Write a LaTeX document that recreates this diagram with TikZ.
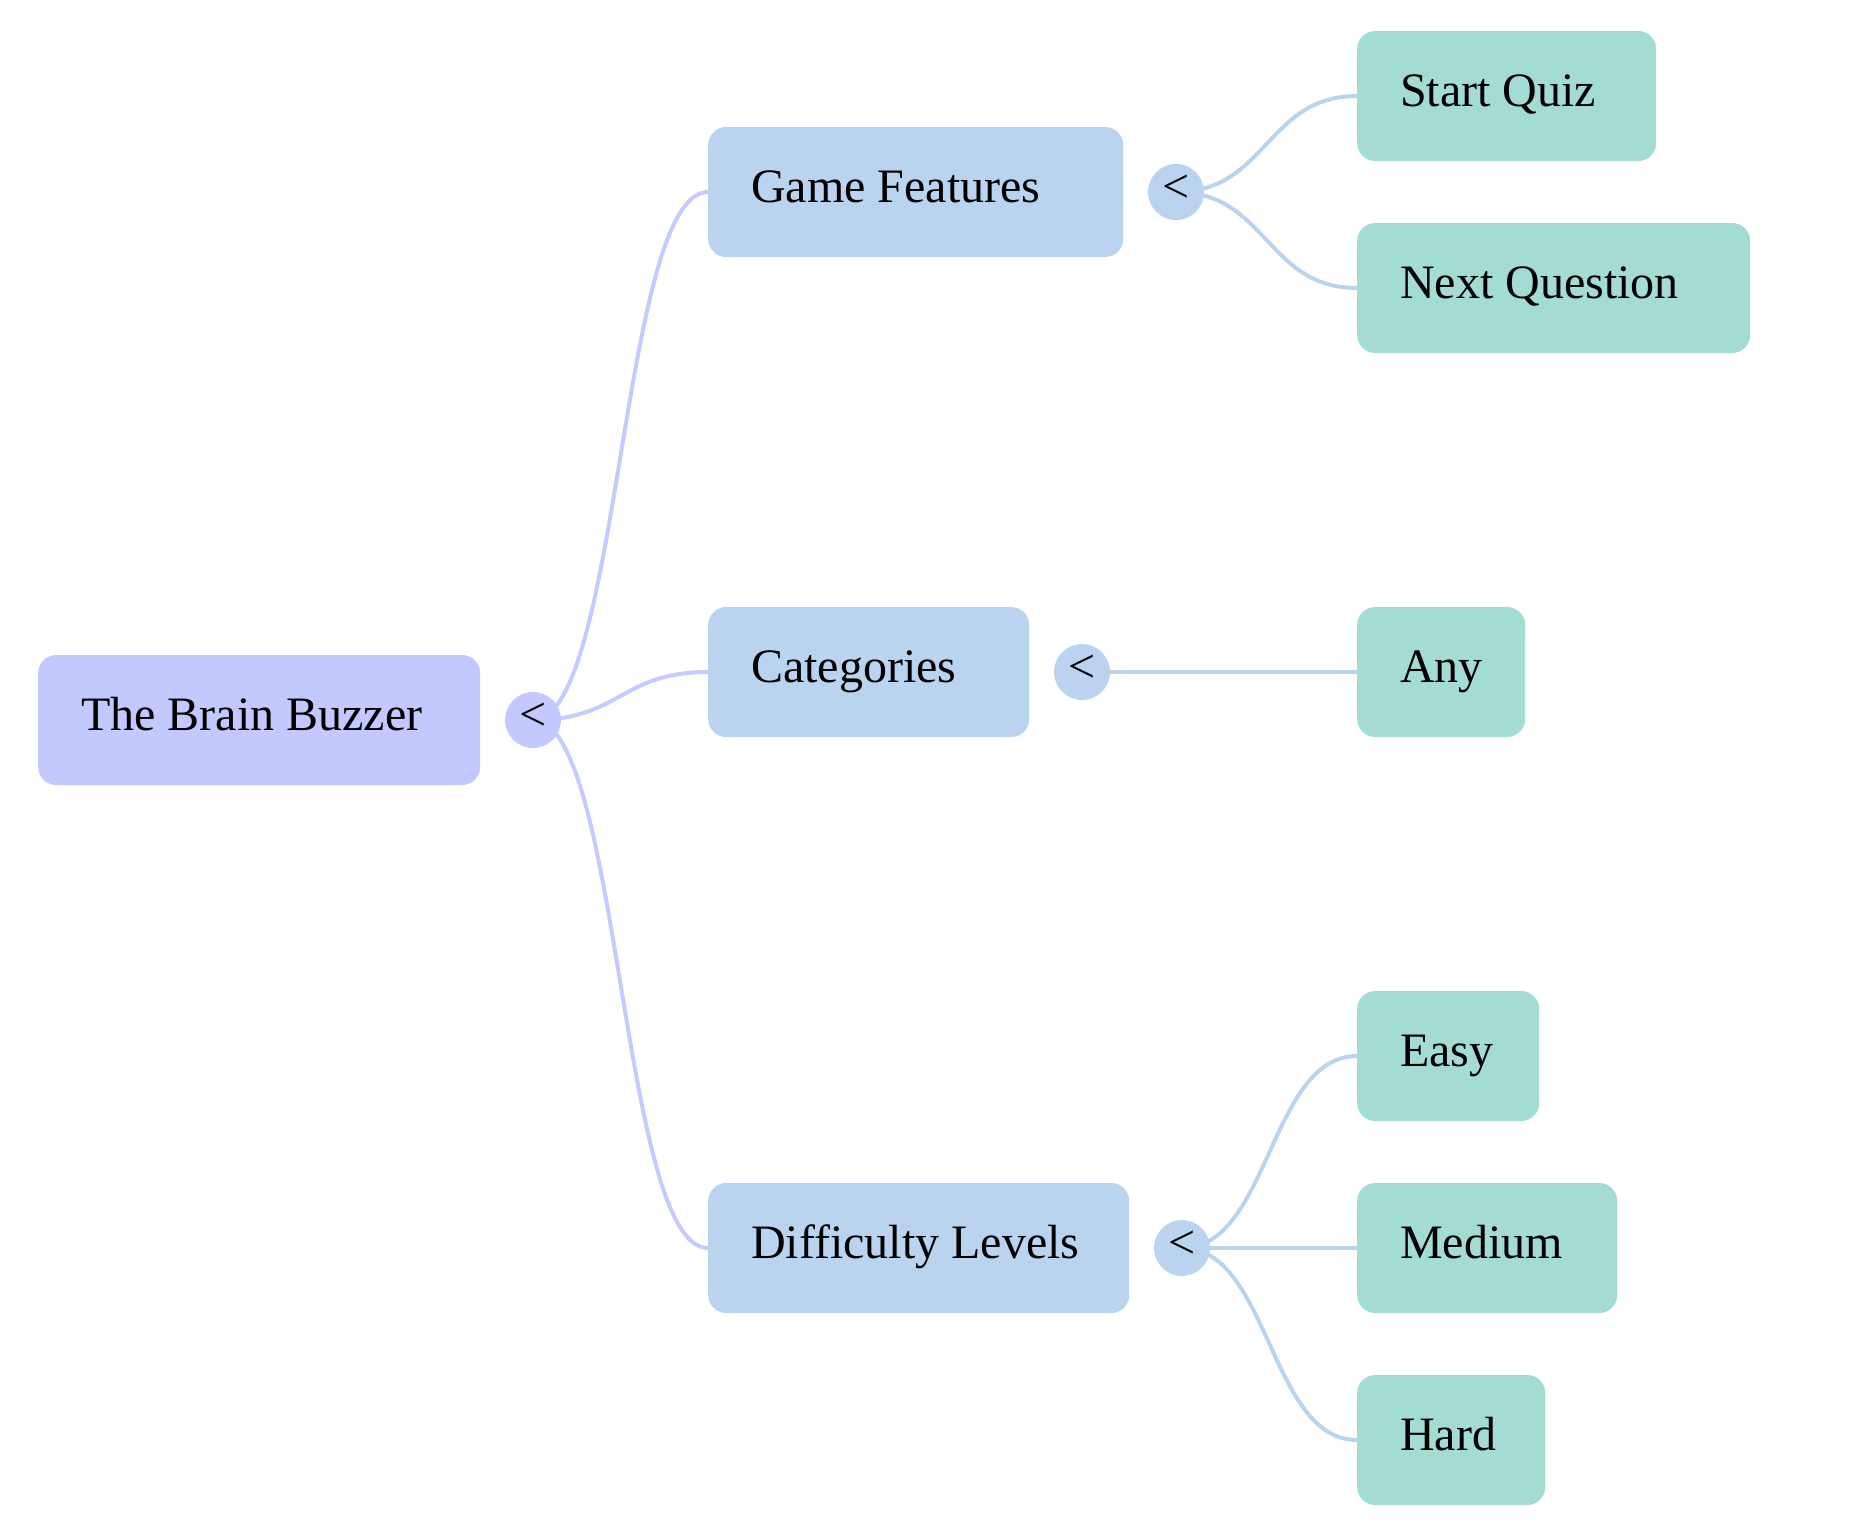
\documentclass[tikz,border=0pt]{standalone}
\usepackage{fontspec}
\setmainfont{Liberation Serif}
\usetikzlibrary{backgrounds}
\definecolor{rootfill}{HTML}{C3C8FE}
\definecolor{lonefill}{HTML}{BAD4EF}
\definecolor{ltwofill}{HTML}{A2DCD2}
\definecolor{linkzero}{HTML}{C5CAFF}
\definecolor{linkone}{HTML}{BAD4EF}
\tikzset{
  boxnode/.style={rectangle, rounded corners=18pt, inner xsep=0pt, inner ysep=0pt,
    minimum height=130pt, text width=#1, align=left, anchor=west,
    text height=30pt, text depth=10pt,
    font=\fontsize{48}{56}\selectfont},
  rootbox/.style={boxnode=#1, fill=rootfill},
  lonebox/.style={boxnode=#1, fill=lonefill},
  ltwobox/.style={boxnode=#1, fill=ltwofill},
  knob/.style={circle, minimum size=56pt, inner sep=0pt,
    text height=26pt, text depth=6pt, font=\fontsize{48}{56}\selectfont},
  linkz/.style={draw=linkzero, line width=4pt},
  linko/.style={draw=linkone, line width=4pt},
}
\newcommand{\padtxt}[1]{\spaceskip=0pt\xspaceskip=0pt\hspace*{43pt}#1}
\begin{document}
\begin{tikzpicture}[x=1pt,y=-1pt]
\useasboundingbox (0,0) rectangle (1871,1537);
% level 0
\node[rootbox=442pt] (root) at (38,720) {\padtxt{The Brain Buzzer}};
\node[knob, fill=rootfill] (rc) at (533,720) {<};
% level 1
\node[lonebox=415pt] (gf) at (708,192) {\padtxt{Game Features}};
\node[knob, fill=lonefill] (gfc) at (1176,192) {<};
\node[lonebox=321pt] (cat) at (708,672) {\padtxt{Categories}};
\node[knob, fill=lonefill] (catc) at (1082,672) {<};
\node[lonebox=421pt] (dif) at (708,1248) {\padtxt{Difficulty Levels}};
\node[knob, fill=lonefill] (difc) at (1182,1248) {<};
% level 2
\node[ltwobox=299pt] (sq) at (1357,96) {\padtxt{Start Quiz}};
\node[ltwobox=393pt] (nq) at (1357,288) {\padtxt{Next Question}};
\node[ltwobox=168pt] (any) at (1357,672) {\padtxt{Any}};
\node[ltwobox=182pt] (easy) at (1357,1056) {\padtxt{Easy}};
\node[ltwobox=260pt] (med) at (1357,1248) {\padtxt{Medium}};
\node[ltwobox=188pt] (hard) at (1357,1440) {\padtxt{Hard}};
\begin{pgfonlayer}{background}
\draw[linkz] (rc.center) .. controls +(87.5,0) and +(-87.5,0) .. (gf.west);
\draw[linkz] (rc.center) .. controls +(87.5,0) and +(-87.5,0) .. (cat.west);
\draw[linkz] (rc.center) .. controls +(87.5,0) and +(-87.5,0) .. (dif.west);
\draw[linko] (gfc.center) .. controls +(90.5,0) and +(-90.5,0) .. (sq.west);
\draw[linko] (gfc.center) .. controls +(90.5,0) and +(-90.5,0) .. (nq.west);
\draw[linko] (catc.center) -- (any.west);
\draw[linko] (difc.center) .. controls +(87.5,0) and +(-87.5,0) .. (easy.west);
\draw[linko] (difc.center) -- (med.west);
\draw[linko] (difc.center) .. controls +(87.5,0) and +(-87.5,0) .. (hard.west);
\end{pgfonlayer}
\end{tikzpicture}
\end{document}
